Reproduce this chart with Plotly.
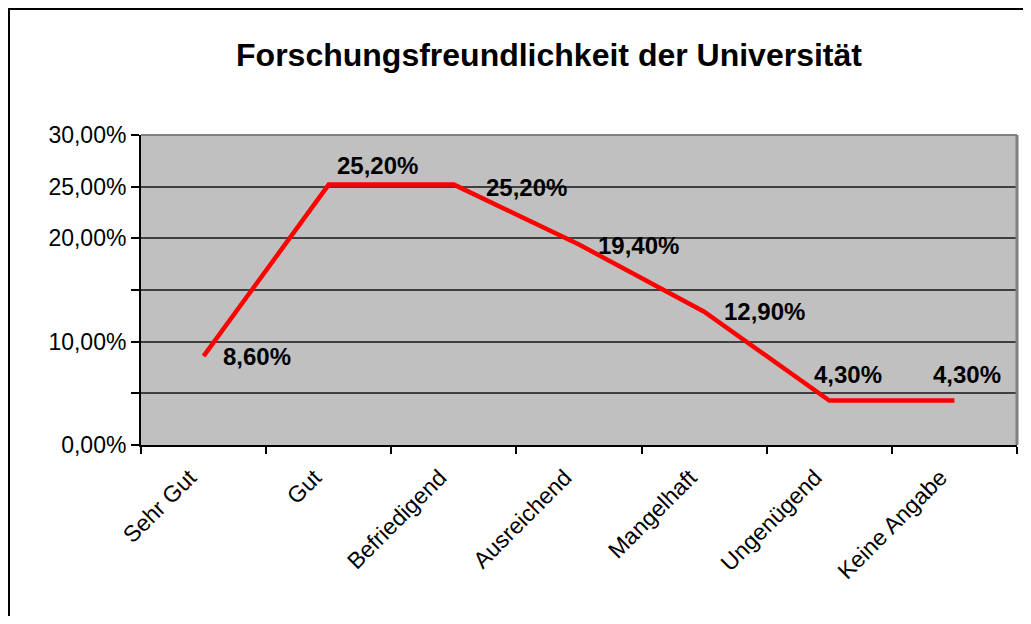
import plotly.graph_objects as go

categories = ["Sehr Gut", "Gut", "Befriedigend", "Ausreichend", "Mangelhaft", "Ungenügend", "Keine Angabe"]
values = [8.6, 25.2, 25.2, 19.4, 12.9, 4.3, 4.3]
value_labels = ["8,60%", "25,20%", "25,20%", "19,40%", "12,90%", "4,30%", "4,30%"]
y_tickvals = [0, 5, 10, 15, 20, 25, 30]
y_ticktext = ["0,00%", "", "10,00%", "", "20,00%", "25,00%", "30,00%"]
title_text = "Forschungsfreundlichkeit der Universität"

# label offsets (pixels) per point
label_xshift = [17, 6, 30, 17, 18, -17, -23]
label_yshift = [0, 19, -3, -1, 0, 26, 26]

# figure sits at an 8px page offset
W, H = 1015, 608
L, R, T, B = 133, 1009, 127, 437

FONT = "Arial, Liberation Sans, sans-serif"

fig = go.Figure()
fig.add_trace(go.Scatter(
    x=categories, y=values, mode="lines",
    line=dict(color="#FF0000", width=4.5),
    hoverinfo="skip", showlegend=False,
))

for c, v, t, dx, dy in zip(categories, values, value_labels, label_xshift, label_yshift):
    fig.add_annotation(x=c, y=v, text="<b>%s</b>" % t, showarrow=False,
                       xanchor="left", yanchor="middle", xshift=dx, yshift=dy,
                       font=dict(family=FONT, size=24, color="black"))

def px_x(p):
    return (p - L) / (R - L)

def px_y(p):
    return (B - p) / (B - T)

# outer chart border (left and top visible)
fig.add_shape(type="line", xref="paper", yref="paper",
              x0=px_x(1), x1=px_x(1), y0=px_y(H + 5), y1=px_y(0),
              line=dict(color="black", width=2), layer="below")
fig.add_shape(type="line", xref="paper", yref="paper",
              x0=px_x(0), x1=px_x(W + 5), y0=px_y(1), y1=px_y(1),
              line=dict(color="black", width=2), layer="below")
# plot area right and top border
fig.add_shape(type="line", xref="paper", yref="paper", x0=1, x1=1, y0=0, y1=1,
              line=dict(color="#808080", width=3), layer="above")
fig.add_shape(type="line", xref="paper", yref="paper", x0=0, x1=1, y0=1, y1=1,
              line=dict(color="#808080", width=2), layer="below")

fig.update_layout(
    width=W, height=H,
    margin=dict(l=L, r=W - R, t=T, b=H - B, pad=0),
    paper_bgcolor="white", plot_bgcolor="#C0C0C0",
    font=dict(family=FONT, size=23, color="black"),
    title=dict(text="<b>%s</b>" % title_text, x=px_x(541), xref="paper", xanchor="center",
               y=1 - 47 / H, yref="container", yanchor="middle",
               font=dict(family=FONT, size=32, color="black")),
    xaxis=dict(type="category", tickson="boundaries", ticks="outside", ticklen=7,
               tickcolor="black", tickwidth=1.5, tickangle=-45, showgrid=False,
               showline=True, linecolor="black", linewidth=2,
               range=[-0.5, len(categories) - 0.5],
               ticklabelshift=-14, ticklabelstandoff=8,
               tickfont=dict(family=FONT, size=23, color="black")),
    yaxis=dict(range=[0, 30], tickvals=y_tickvals, ticktext=y_ticktext,
               ticks="outside", ticklen=8, tickcolor="black", tickwidth=1.5,
               showgrid=True, gridcolor="#404040", gridwidth=1.5,
               showline=True, linecolor="black", linewidth=2, zeroline=False,
               tickfont=dict(family=FONT, size=23, color="black")),
)

fig.write_html("out.html")
